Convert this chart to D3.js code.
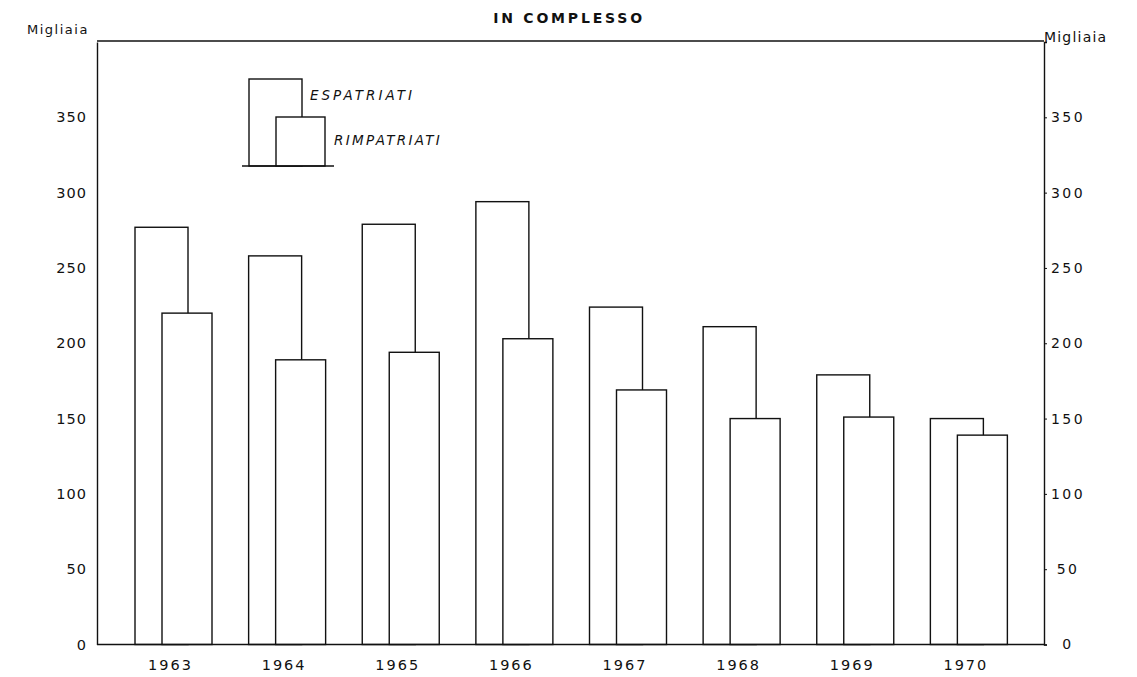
<!DOCTYPE html>
<html><head><meta charset="utf-8">
<script src="https://cdn.jsdelivr.net/npm/d3@7"></script>
<style>
html,body{margin:0;padding:0;background:#fff;}
text{font-family:"DejaVu Sans",sans-serif;fill:#111;}
</style></head>
<body>
<svg id="c" width="1137" height="677"></svg>
<script>
const years = ["1963","1964","1965","1966","1967","1968","1969","1970"];
const espatriati = [277, 258, 279, 294, 224, 211, 179, 150];
const rimpatriati = [220, 189, 194, 203, 169, 150, 151, 139];
const yTicks = [0, 50, 100, 150, 200, 250, 300, 350];
const seriesNames = ["ESPATRIATI", "RIMPATRIATI"];
const title = "IN COMPLESSO";
const unitLabel = "Migliaia";

const svg = d3.select("#c");
const L = 97, R = 1044, T = 41, B = 644.5;
const y = d3.scaleLinear().domain([0, 400]).range([B, 42]);
const x = d3.scaleBand().domain(years).range([121, 1030]).padding(0);
const espOff = 14, espW = 53, rimOff = 41, rimW = 50;
const ink = "#111";

// frame top
svg.append("line").attr("x1", L).attr("x2", R).attr("y1", T).attr("y2", T)
  .attr("stroke", ink).attr("stroke-width", 1.4);

// left axis
const la = svg.append("g").attr("transform", `translate(${L},0)`)
  .call(d3.axisLeft(y).tickValues(yTicks).tickSize(0).tickPadding(10).tickFormat(d3.format("d")));
la.select(".domain").attr("stroke", ink).attr("stroke-width", 1.4);
la.selectAll("text").style("font-size", "14.5px").style("letter-spacing", "1px").attr("fill", ink);

// right axis
const ra = svg.append("g").attr("transform", `translate(${R},0)`)
  .call(d3.axisRight(y).tickValues(yTicks).tickSize(3).tickPadding(4).tickFormat(d3.format("d")));
ra.select(".domain").attr("stroke", ink).attr("stroke-width", 1.4);
ra.selectAll(".tick line").attr("stroke", ink);
ra.selectAll("text").attr("x", 24).attr("text-anchor", "middle")
  .style("font-size", "14px").style("letter-spacing", "2.4px").attr("fill", ink);

// bars
const g = svg.append("g");
years.forEach((yr, i) => {
  g.append("rect").attr("x", x(yr) + espOff).attr("width", espW)
    .attr("y", y(espatriati[i])).attr("height", y(0) - y(espatriati[i]))
    .attr("fill", "#fff").attr("stroke", ink).attr("stroke-width", 1.4);
  g.append("rect").attr("x", x(yr) + rimOff).attr("width", rimW)
    .attr("y", y(rimpatriati[i])).attr("height", y(0) - y(rimpatriati[i]))
    .attr("fill", "#fff").attr("stroke", ink).attr("stroke-width", 1.4);
});

// baseline
svg.append("line").attr("x1", L).attr("x2", R).attr("y1", y(0)).attr("y2", y(0))
  .attr("stroke", ink).attr("stroke-width", 1.6);

// x labels
svg.append("g").selectAll("text").data(years).join("text")
  .attr("x", d => x(d) + 49.5).attr("y", 669.5)
  .attr("text-anchor", "middle").style("font-size", "14.5px").style("letter-spacing", "2px")
  .text(d => d);

// title + unit labels
svg.append("text").attr("x", 569).attr("y", 23).attr("text-anchor", "middle")
  .style("font-size", "14px").style("font-weight", "bold").style("letter-spacing", "2.8px").text(title);
svg.append("text").attr("x", 27).attr("y", 34)
  .style("font-size", "13px").style("letter-spacing", "1.5px").text(unitLabel);
svg.append("text").attr("x", 1044).attr("y", 42)
  .style("font-size", "14px").style("letter-spacing", "1.2px").text(unitLabel);

// legend
const lg = svg.append("g");
lg.append("rect").attr("x", 249).attr("y", 79).attr("width", 53).attr("height", 87)
  .attr("fill", "#fff").attr("stroke", ink).attr("stroke-width", 1.4);
lg.append("rect").attr("x", 276).attr("y", 117).attr("width", 49).attr("height", 49)
  .attr("fill", "#fff").attr("stroke", ink).attr("stroke-width", 1.4);
lg.append("line").attr("x1", 242).attr("x2", 334).attr("y1", 166).attr("y2", 166)
  .attr("stroke", ink).attr("stroke-width", 1.6);
lg.append("text").attr("x", 310).attr("y", 100).style("font-size", "13.5px")
  .style("font-style", "italic").style("letter-spacing", "3px").text(seriesNames[0]);
lg.append("text").attr("x", 334).attr("y", 145).style("font-size", "13.5px")
  .style("font-style", "italic").style("letter-spacing", "2.3px").text(seriesNames[1]);
</script>
</body></html>
